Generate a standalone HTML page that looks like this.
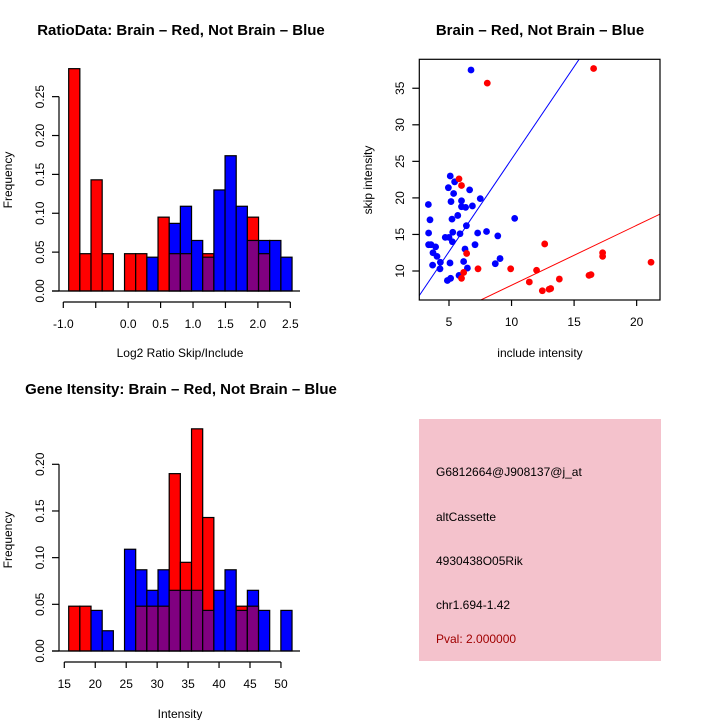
<!DOCTYPE html>
<html><head><meta charset="utf-8"><style>
html,body{margin:0;padding:0;background:#fff;}
svg{display:block;font-family:"Liberation Sans",sans-serif;}
</style></head><body>
<svg id="c" width="720" height="720">
<rect width="720" height="720" fill="#fff"/>
<text x="181" y="35" text-anchor="middle" font-size="15" font-weight="bold">RatioData: Brain – Red, Not Brain – Blue</text>
<text x="540" y="35" text-anchor="middle" font-size="15" font-weight="bold">Brain – Red, Not Brain – Blue</text>
<text x="181" y="394" text-anchor="middle" font-size="15" font-weight="bold">Gene Itensity: Brain – Red, Not Brain – Blue</text>
<text x="180" y="357" text-anchor="middle" font-size="12">Log2 Ratio Skip/Include</text>
<text x="180" y="718" text-anchor="middle" font-size="12">Intensity</text>
<text x="540" y="357" text-anchor="middle" font-size="12">include intensity</text>
<text transform="translate(12,180) rotate(-90)" text-anchor="middle" font-size="12">Frequency</text>
<text transform="translate(12,540) rotate(-90)" text-anchor="middle" font-size="12">Frequency</text>
<text transform="translate(372,180) rotate(-90)" text-anchor="middle" font-size="12">skip intensity</text>
<g>
<rect x="419" y="419" width="242" height="242" fill="#f4c2cc"/>
<text x="436" y="476" font-size="12">G6812664@J908137@j_at</text>
<text x="436" y="521" font-size="12">altCassette</text>
<text x="436" y="565" font-size="12">4930438O05Rik</text>
<text x="436" y="609" font-size="12">chr1.694-1.42</text>
<text x="436" y="643" font-size="12" fill="#a00000">Pval: 2.000000</text>
</g>
<g id="g1"></g><g id="g2"></g><g id="g3"></g>
</svg>
<script>
// Ratio histogram data
const ratioRed = [0.286,0.048,0.143,0.048,0,0.048,0.048,0,0.095,0.048,0.048,0,0.048,0,0,0,0.095,0.048,0,0];
const ratioBlue = [0,0,0,0,0,0,0,0.0435,0,0.087,0.109,0.065,0.0435,0.130,0.174,0.109,0.065,0.065,0.065,0.0435];
const ratioXTicks = [-1.0,-0.5,0.0,0.5,1.0,1.5,2.0,2.5];
const ratioXLabels = ["-1.0","","0.0","0.5","1.0","1.5","2.0","2.5"];
const ratioYTicks = [0,0.05,0.10,0.15,0.20,0.25];
const ratioYLabels = ["0.00","0.05","0.10","0.15","0.20","0.25"];
// Intensity histogram data
const intRed = [0.048,0.048,0,0,0,0,0.048,0.048,0.048,0.19,0.095,0.238,0.143,0,0,0.048,0.048,0,0,0];
const intBlue = [0,0,0.0435,0.0217,0,0.109,0.087,0.065,0.087,0.065,0.065,0.065,0.0435,0.065,0.087,0.0435,0.065,0.0435,0,0.0435];
const intXTicks = [15,20,25,30,35,40,45,50];
const intYTicks = [0,0.05,0.10,0.15,0.20];
const intYLabels = ["0.00","0.05","0.10","0.15","0.20"];
// Scatter data
const blueX = [6.76,5.1,5.45,4.95,6.65,5.37,7.5,3.35,5.16,6.0,6.0,6.33,6.87,5.7,3.48,5.24,10.25,6.39,3.37,5.3,5.88,7.29,8.0,8.9,4.7,5.0,5.27,3.37,3.56,3.93,7.08,6.28,3.72,4.04,4.31,3.69,4.28,5.08,6.17,6.47,8.7,9.08,5.8,5.13,4.87];
const blueY = [37.5,23.0,22.2,21.4,21.1,20.6,19.9,19.1,19.5,19.6,18.8,18.7,18.9,17.6,17.0,17.1,17.2,16.2,15.2,15.3,15.1,15.2,15.4,14.8,14.6,14.6,14.0,13.6,13.6,13.3,13.6,13.0,12.5,12.0,11.2,10.8,10.3,11.1,11.3,10.4,11.0,11.7,9.4,9.0,8.7];
const redX = [16.56,8.06,5.8,6.0,6.41,12.65,17.28,17.28,21.15,7.32,9.93,12.0,6.17,6.0,11.42,13.82,16.19,16.35,12.46,13.13,13.0];
const redY = [37.7,35.7,22.6,21.7,12.4,13.7,12.5,12.0,11.2,10.3,10.3,10.1,9.8,9.0,8.5,8.9,9.4,9.5,7.3,7.6,7.5];
const scXTicks = [5,10,15,20];
const scYTicks = [10,15,20,25,30,35];
const blueLine = [0, 2.53];   // intercept, slope
const redLine = [-0.15, 0.82];

const NS="http://www.w3.org/2000/svg";
function mk(p,t,a){const e=document.createElementNS(NS,t);for(const k in a)e.setAttribute(k,a[k]);p.appendChild(e);return e;}

function hist(g,red,blue,x0,bw,sx,y0px,yScale,xt,xl,yt,yl,axisY,name){
  const px=v=>sx(v);
  for(let i=0;i<red.length;i++){
    const l=px(x0+i*bw), r=px(x0+(i+1)*bw), w=r-l;
    const a=red[i], b=blue[i];
    const hi=Math.max(a,b), m=Math.min(a,b);
    if(hi>0){
      const e=mk(g,'rect',{x:l,y:yScale(hi),width:w,height:y0px-yScale(hi),fill:a>=b?'#ff0000':'#0000ff',stroke:'#000','stroke-width':1.2});
      
      
    }
    if(m>0){
      const e=mk(g,'rect',{x:l,y:yScale(m),width:w,height:y0px-yScale(m),fill:'#800080',stroke:'#000','stroke-width':1.2});
      
      
    }
  }
  mk(g,'line',{x1:52,x2:300,y1:y0px,y2:y0px,stroke:'#000','stroke-width':1.2});
  mk(g,'line',{x1:59,x2:59,y1:yScale(yt[0]),y2:yScale(yt[yt.length-1]),stroke:'#000','stroke-width':1.2});
  yt.forEach((v,i)=>{const y=yScale(v);mk(g,'line',{x1:52,x2:59,y1:y,y2:y,stroke:'#000','stroke-width':1.2});
    const t=mk(g,'text',{transform:`translate(44,${y}) rotate(-90)`,'text-anchor':'middle','font-size':12});t.textContent=yl[i];
    
    });
  mk(g,'line',{x1:px(xt[0]),x2:px(xt[xt.length-1]),y1:axisY,y2:axisY,stroke:'#000','stroke-width':1.2});
  xt.forEach((v,i)=>{const x=px(v);mk(g,'line',{x1:x,x2:x,y1:axisY,y2:axisY+6,stroke:'#000','stroke-width':1.2});
    const t=mk(g,'text',{x:x,y:axisY+26,'text-anchor':'middle','font-size':12});t.textContent=xl[i];
    
    });
}
hist(document.getElementById('g1'),ratioRed,ratioBlue,-0.917,0.1722,v=>63.3+(v+1)*64.86,291,v=>291-v*777.4,ratioXTicks,ratioXLabels,ratioYTicks,ratioYLabels,302,'ratio');
hist(document.getElementById('g2'),intRed,intBlue,15.71,1.804,v=>64.3+(v-15)*6.19,651,v=>651-v*933.5,intXTicks,intXTicks.map(String),intYTicks,intYLabels,662,'intensity');

const g3=document.getElementById('g3');
const sx=v=>449+(v-5)*12.51, sy=v=>271-(v-10)*7.31;
const L=419.3,R=660,T=59.3,B=300;
const cp=mk(g3,'clipPath',{id:'cp'});mk(cp,'rect',{x:L,y:T,width:R-L,height:B-T});
const lg=mk(g3,'g',{'clip-path':'url(#cp)'});
[[blueLine,'#0000ff','blue-fit-line'],[redLine,'#ff0000','red-fit-line']].forEach(([ln,c,n])=>{
  const xa=0,xb=25;const e=mk(lg,'line',{x1:sx(xa),y1:sy(ln[0]+ln[1]*xa),x2:sx(xb),y2:sy(ln[0]+ln[1]*xb),stroke:c,'stroke-width':1});
  
  });
blueX.forEach((x,i)=>{const e=mk(lg,'circle',{cx:sx(x),cy:sy(blueY[i]),r:3.4,fill:'#0000ff'});
  
  });
redX.forEach((x,i)=>{const e=mk(lg,'circle',{cx:sx(x),cy:sy(redY[i]),r:3.4,fill:'#ff0000'});
  
  });
mk(g3,'rect',{x:L,y:T,width:R-L,height:B-T,fill:'none',stroke:'#000','stroke-width':1.2});
scXTicks.forEach(v=>{const x=sx(v);mk(g3,'line',{x1:x,x2:x,y1:B,y2:B+6,stroke:'#000','stroke-width':1.2});
  const t=mk(g3,'text',{x:x,y:B+26,'text-anchor':'middle','font-size':12});t.textContent=v;
  
  });
scYTicks.forEach(v=>{const y=sy(v);mk(g3,'line',{x1:L-7,x2:L,y1:y,y2:y,stroke:'#000','stroke-width':1.2});
  const t=mk(g3,'text',{transform:`translate(404,${y}) rotate(-90)`,'text-anchor':'middle','font-size':12});t.textContent=v;
  
  });
</script>
</body></html>
